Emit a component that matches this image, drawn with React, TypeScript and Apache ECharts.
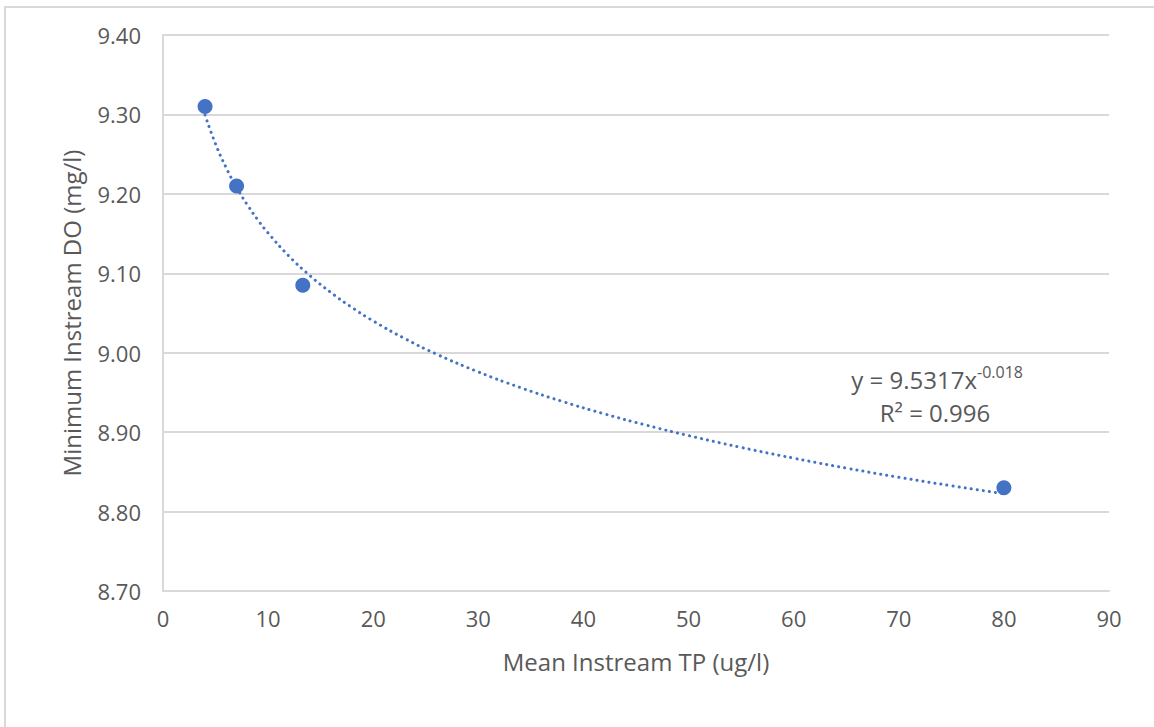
import React, { useEffect, useRef } from "react";
import * as echarts from "echarts";

const tpValues = [4, 7, 13.3, 80];
const doValues = [9.31, 9.21, 9.085, 8.83];
const trendXs = [4, 5, 6, 7, 8, 9, 10, 12, 14, 16, 18, 20, 23, 26, 30, 34, 38, 42, 46, 50, 55, 60, 65, 70, 75, 80];
const equationText = "y = 9.5317x";
const exponentText = "-0.018";
const r2Text = "R² = 0.996";
const xTitle = "Mean Instream TP (ug/l)";
const yTitle = "Minimum Instream DO (mg/l)";

const FONT = "'Open Sans', 'Noto Sans', sans-serif";
const TEXT = "#595959";
const GRID = "#d9d9d9";
const BLUE = "#4472C4";

function powerFit(xs: number[], ys: number[]) {
  const lx = xs.map(Math.log);
  const ly = ys.map(Math.log);
  const n = xs.length;
  const mx = lx.reduce((a, b) => a + b, 0) / n;
  const my = ly.reduce((a, b) => a + b, 0) / n;
  let sxy = 0, sxx = 0;
  for (let i = 0; i < n; i++) {
    sxy += (lx[i] - mx) * (ly[i] - my);
    sxx += (lx[i] - mx) * (lx[i] - mx);
  }
  const b = sxy / sxx;
  const a = Math.exp(my - b * mx);
  return { a, b };
}

export default function App() {
  const ref = useRef<HTMLDivElement>(null);
  useEffect(() => {
    if (!ref.current) return;
    const chart = echarts.init(ref.current, undefined, { renderer: "svg" });
    const fit = powerFit(tpValues, doValues);
    const trend = trendXs.map((x) => [x, fit.a * Math.pow(x, fit.b)]);
    const points = tpValues.map((x, i) => [x, doValues[i]]);
    chart.setOption({
      animation: false,
      backgroundColor: "#ffffff",
      grid: { left: 163, right: 45, top: 35, bottom: 136, containLabel: false },
      xAxis: {
        type: "value",
        min: 0,
        max: 90,
        interval: 10,
        name: xTitle,
        nameLocation: "middle",
        nameGap: 58,
        nameTextStyle: { color: TEXT, fontSize: 24, fontFamily: FONT },
        axisLine: { show: true, lineStyle: { color: GRID, width: 2 } },
        axisTick: { show: false },
        axisLabel: { color: TEXT, fontSize: 22, fontFamily: FONT, margin: 16 },
        splitLine: { show: false },
      },
      yAxis: {
        type: "value",
        min: 8.7,
        max: 9.4,
        interval: 0.1,
        name: yTitle,
        nameLocation: "middle",
        nameGap: 80,
        nameRotate: 90,
        nameTextStyle: { color: TEXT, fontSize: 24, fontFamily: FONT },
        axisLine: { show: true, lineStyle: { color: GRID, width: 2 } },
        axisTick: { show: false },
        axisLabel: {
          color: TEXT,
          fontSize: 22,
          fontFamily: FONT,
          margin: 22,
          formatter: (v: number) => v.toFixed(2),
        },
        splitLine: { show: true, lineStyle: { color: GRID, width: 2 } },
      },
      series: [
        {
          type: "line",
          data: trend,
          smooth: true,
          showSymbol: false,
          symbol: "none",
          lineStyle: { color: BLUE, width: 3, type: [0.1, 6], cap: "round" },
          z: 2,
        },
        {
          type: "scatter",
          data: points,
          symbol: "circle",
          symbolSize: 15,
          itemStyle: { color: BLUE, opacity: 1 },
          z: 3,
        },
      ],
      graphic: [
        {
          type: "rect",
          shape: { x: 5, y: 7, width: 1200, height: 800 },
          style: { fill: "none", stroke: GRID, lineWidth: 2 },
          silent: true,
        },
        {
          type: "text",
          x: 977,
          y: 379,
          style: {
            text: equationText,
            fill: TEXT,
            fontSize: 24,
            fontFamily: FONT,
            align: "right",
            verticalAlign: "middle",
          },
        },
        {
          type: "text",
          x: 977,
          y: 372,
          style: {
            text: exponentText,
            fill: TEXT,
            fontSize: 16,
            fontFamily: FONT,
            align: "left",
            verticalAlign: "middle",
          },
        },
        {
          type: "text",
          x: 935,
          y: 412,
          style: {
            text: r2Text,
            fill: TEXT,
            fontSize: 24,
            fontFamily: FONT,
            align: "center",
            verticalAlign: "middle",
          },
        },
      ],
    });
    return () => chart.dispose();
  }, []);
  return (
    <div
      ref={ref}
      style={{ position: "absolute", left: 0, top: 0, width: 1154, height: 727 }}
    />
  );
}
